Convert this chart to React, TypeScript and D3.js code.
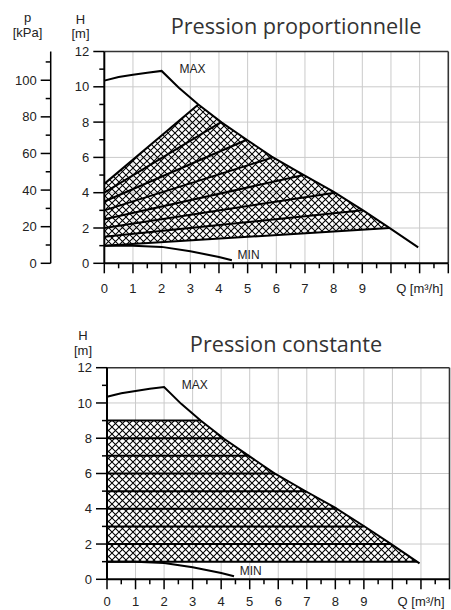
import React from "react";
import * as d3 from "d3";

// ---- data ----
const qTickLabels = [0, 1, 2, 3, 4, 5, 6, 7, 8, 9];
const qMajor = d3.range(0, 13, 1);
const qMinor = d3.range(0.5, 12, 1);
const hLabels = [0, 2, 4, 6, 8, 10, 12];
const hMinor = [1, 3, 5, 7, 9, 11];
const hGrid = [2, 4, 6, 8, 10];
const pLabels = [0, 20, 40, 60, 80, 100];
const pMinor = [10, 30, 50, 70, 90, 110];

// MAX curve [Q, H]
const maxCurve: [number, number][] = [
  [0, 10.35], [0.5, 10.55], [1, 10.68], [1.5, 10.8], [2, 10.9],
  [2.6, 9.95], [3.28, 9.0], [4.1, 7.97], [4.97, 7.0], [5.84, 6.04],
  [6.9, 5.05], [7.99, 4.06], [9.04, 2.98], [9.97, 1.98], [10.95, 0.9],
];
// MIN curve
const minCurve: [number, number][] = [
  [0, 1.0], [1, 1.0], [2, 0.93], [3, 0.68], [4, 0.36], [4.45, 0.17],
];
// proportional-pressure lines: start head at Q=0 and head where they meet MAX
const propStart = [1, 1.5, 2, 2.5, 3, 3.5, 4, 4.5];
const propEnd = [2, 3, 4, 5, 6, 7, 8, 9];
// constant-pressure levels
const constLevels = [1, 2, 3, 4, 5, 6, 7, 8, 9];

// Q on the falling part of the MAX curve for a given head
function qOnMax(h: number): number {
  const fall = maxCurve.filter((d) => d[0] >= 2);
  for (let i = 0; i < fall.length - 1; i++) {
    const [q0, h0] = fall[i];
    const [q1, h1] = fall[i + 1];
    if ((h <= h0 && h >= h1)) {
      const t = (h0 - h) / (h0 - h1);
      return q0 + t * (q1 - q0);
    }
  }
  return fall[fall.length - 1][0];
}
function maxBetween(hTop: number, hBot: number): [number, number][] {
  const pts: [number, number][] = [[qOnMax(hTop), hTop]];
  maxCurve.forEach((d) => {
    if (d[0] >= 2 && d[1] < hTop && d[1] > hBot) pts.push(d);
  });
  pts.push([qOnMax(hBot), hBot]);
  return pts;
}

const FONT = "'Liberation Sans', Arial, sans-serif";
const TITLE_FONT = "'Open Sans', sans-serif";

type PanelProps = {
  left: number; top: number; right: number; bottom: number;
  title: string; titleX: number; titleY: number;
  hLabelX: number; hLabelY: number;
  mode: "prop" | "const";
  pAxis?: boolean;
  pid: string;
  qLabelDy: number;
};

function Panel(p: PanelProps) {
  const x = d3.scaleLinear().domain([0, 12]).range([p.left, p.right]);
  const y = d3.scaleLinear().domain([0, 12]).range([p.bottom, p.top]);
  const line = d3.line<[number, number]>().x((d) => x(d[0])).y((d) => y(d[1]));

  let region: [number, number][] = [];
  let lines: [number, number][][] = [];
  if (p.mode === "prop") {
    const topS = propStart[propStart.length - 1];
    const topE = propEnd[propEnd.length - 1];
    const botS = propStart[0];
    const botE = propEnd[0];
    region = [[0, botS], [0, topS], ...maxBetween(topE, botE)];
    lines = propStart.map((s, i) => [[0, s], [qOnMax(propEnd[i]), propEnd[i]]] as [number, number][]);
  } else {
    const hi = constLevels[constLevels.length - 1];
    const lo = constLevels[0];
    region = [[0, lo], [0, hi], ...maxBetween(hi, lo)];
    lines = constLevels.map((h) => [[0, h], [qOnMax(h), h]] as [number, number][]);
  }

  const pScale = d3.scaleLinear().domain([0, 115.7]).range([p.bottom, p.top]);
  const pX = 50.7;

  return (
    <g>
      <defs>
        <pattern id={p.pid} width={7} height={7} patternUnits="userSpaceOnUse">
          <path d="M-1,-1 L8,8 M8,-1 L-1,8" stroke="#000" strokeWidth={1.05} />
        </pattern>
      </defs>
      <text x={p.titleX} y={p.titleY} textAnchor="middle" fontFamily={TITLE_FONT}
        fontSize={21.7} fill="#333">{p.title}</text>
      {/* grid */}
      {qMajor.filter((q) => q > 0 && q < 12).map((q) => (
        <line key={"gv" + q} x1={x(q)} x2={x(q)} y1={p.top} y2={p.bottom} stroke="#cacaca" strokeWidth={1} />
      ))}
      {hGrid.map((h) => (
        <line key={"gh" + h} x1={p.left} x2={p.right} y1={y(h)} y2={y(h)} stroke="#cacaca" strokeWidth={1} />
      ))}
      {/* hatched region */}
      <path d={line(region.concat([region[0]])) || ""} fill={`url(#${p.pid})`} stroke="none" />
      {lines.map((l, i) => (
        <path key={"l" + i} d={line(l) || ""} fill="none" stroke="#000" strokeWidth={2} />
      ))}
      <path d={line(maxCurve) || ""} fill="none" stroke="#000" strokeWidth={2} />
      <path d={line(minCurve) || ""} fill="none" stroke="#000" strokeWidth={2} />
      <text x={x(2.62)} y={y(10.77)} fontFamily={FONT} fontSize={12} fill="#222">MAX</text>
      <text x={x(4.65)} y={y(0.22)} fontFamily={FONT} fontSize={12} fill="#222">MIN</text>
      {/* frame */}
      <line x1={p.left} x2={p.right} y1={p.top} y2={p.top} stroke="#333" strokeWidth={1.6} />
      <line x1={p.right} x2={p.right} y1={p.top} y2={p.bottom} stroke="#333" strokeWidth={1.6} />
      <line x1={p.left} x2={p.left} y1={p.top} y2={p.bottom} stroke="#000" strokeWidth={2} />
      <line x1={p.left} x2={p.right} y1={p.bottom} y2={p.bottom} stroke="#000" strokeWidth={2} />
      {/* H axis ticks */}
      {hLabels.map((h) => (
        <g key={"hl" + h}>
          <line x1={p.left - 11} x2={p.left} y1={y(h)} y2={y(h)} stroke="#000" strokeWidth={1.5} />
          <text x={p.left - 15} y={y(h) + 4.6} textAnchor="end" fontFamily={FONT} fontSize={13} fill="#222">{h}</text>
        </g>
      ))}
      {hMinor.map((h) => (
        <line key={"hm" + h} x1={p.left - 5} x2={p.left} y1={y(h)} y2={y(h)} stroke="#000" strokeWidth={1.5} />
      ))}
      {/* Q axis ticks */}
      {qMajor.map((q) => (
        <line key={"qM" + q} x1={x(q)} x2={x(q)} y1={p.bottom} y2={p.bottom + 10} stroke="#000" strokeWidth={1.5} />
      ))}
      {qMinor.map((q) => (
        <line key={"qm" + q} x1={x(q)} x2={x(q)} y1={p.bottom} y2={p.bottom + 5} stroke="#000" strokeWidth={1.5} />
      ))}
      {qTickLabels.map((q) => (
        <text key={"ql" + q} x={x(q)} y={p.bottom + p.qLabelDy} textAnchor="middle" fontFamily={FONT} fontSize={13} fill="#222">{q}</text>
      ))}
      <text x={x(10.18)} y={p.bottom + p.qLabelDy} fontFamily={FONT} fontSize={13} fill="#222">Q [m³/h]</text>
      {/* H label */}
      <text x={p.hLabelX} y={p.hLabelY} textAnchor="middle" fontFamily={FONT} fontSize={13} fill="#222">H</text>
      <text x={p.hLabelX} y={p.hLabelY + 14.5} textAnchor="middle" fontFamily={FONT} fontSize={13} fill="#222">[m]</text>
      {p.pAxis && (
        <g>
          <line x1={pX} x2={pX} y1={pScale(0)} y2={pScale(115.7)} stroke="#000" strokeWidth={1.5} />
          {pLabels.map((v) => (
            <g key={"pl" + v}>
              <line x1={pX - 10} x2={pX} y1={pScale(v)} y2={pScale(v)} stroke="#000" strokeWidth={1.5} />
              <text x={pX - 14} y={pScale(v) + 4.6} textAnchor="end" fontFamily={FONT} fontSize={13} fill="#222">{v}</text>
            </g>
          ))}
          {pMinor.map((v) => (
            <line key={"pm" + v} x1={pX - 5} x2={pX} y1={pScale(v)} y2={pScale(v)} stroke="#000" strokeWidth={1.5} />
          ))}
          <text x={27.5} y={22} textAnchor="middle" fontFamily={FONT} fontSize={13} fill="#222">p</text>
          <text x={27.5} y={36.5} textAnchor="middle" fontFamily={FONT} fontSize={13} fill="#222">[kPa]</text>
        </g>
      )}
    </g>
  );
}

export default function App() {
  return (
    <svg width={451} height={610} style={{ position: "absolute", left: 0, top: 0 }}>
      <rect width={451} height={610} fill="#fff" />
      <Panel left={104.3} top={51.5} right={448.3} bottom={263.3}
        title="Pression proportionnelle" titleX={296} titleY={34}
        hLabelX={80.5} hLabelY={23.5} mode="prop" pAxis pid="hatchA" qLabelDy={29.5} />
      <Panel left={107} top={367.7} right={449.5} bottom={579.3}
        title="Pression constante" titleX={286} titleY={351.5}
        hLabelX={83} hLabelY={340} mode="const" pid="hatchB" qLabelDy={27} />
    </svg>
  );
}
